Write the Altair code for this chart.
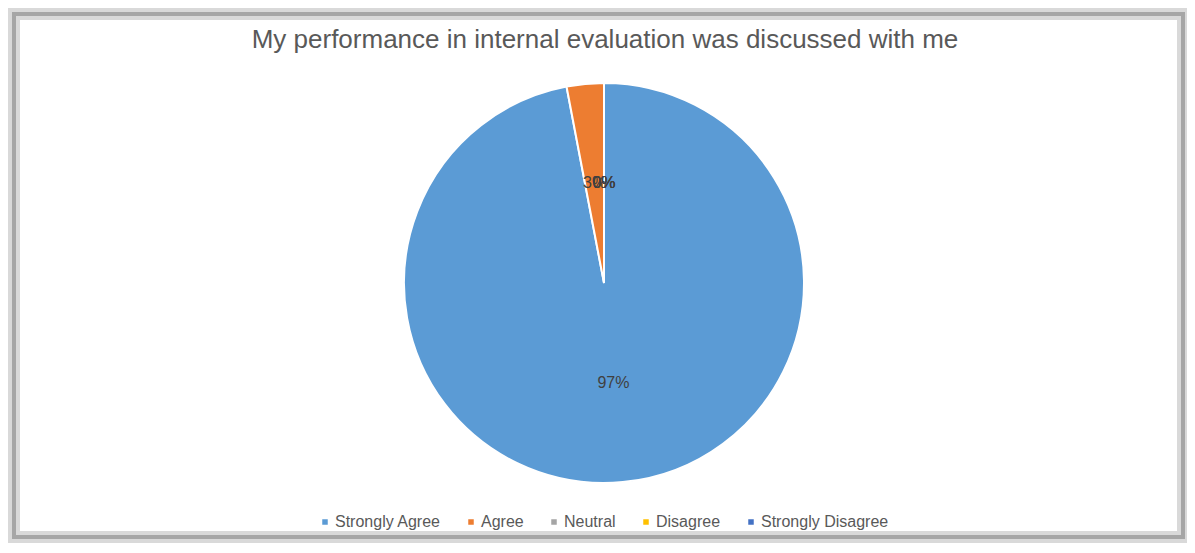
import altair as alt
import pandas as pd

categories = ["Strongly Agree", "Agree", "Neutral", "Disagree", "Strongly Disagree"]
values = [97, 3, 0, 0, 0]
colors = ["#5B9BD5", "#ED7D31", "#A5A5A5", "#FFC000", "#4472C4"]
title_text = "My performance in internal evaluation was discussed with me"

FONT = "Liberation Sans, Arial"

df = pd.DataFrame({
    "category": categories,
    "value": values,
    "order": list(range(len(categories))),
    "label": [f"{v}%" for v in values],
})

W, H = 1179, 537
CX, CY = 596, 275

base = alt.Chart(df).encode(
    theta=alt.Theta("value:Q", stack=True),
    order=alt.Order("order:Q"),
)

pie = base.mark_arc(radius=200, stroke="white", strokeWidth=2).encode(
    color=alt.Color(
        "category:N",
        scale=alt.Scale(domain=categories, range=colors),
        sort=categories,
        legend=alt.Legend(
            title=None,
            orient="none",
            direction="horizontal",
            legendX=309,
            legendY=506,
            symbolType="square",
            symbolSize=49,
            labelFont=FONT,
            labelFontSize=16,
            labelColor="#595959",
            labelOffset=2,
            columnPadding=22,
        ),
    ),
    x=alt.value(CX),
    y=alt.value(CY),
)

labels = base.mark_text(radius=100, font=FONT, fontSize=16, color="#404040").encode(
    text="label:N",
    x=alt.value(CX),
    y=alt.value(CY),
)

frame_df = pd.DataFrame({"a": [0]})
frame_outer = alt.Chart(frame_df).mark_rect(filled=False, stroke="#d9d9d9", strokeWidth=12).encode(
    x=alt.value(6), x2=alt.value(1175), y=alt.value(6), y2=alt.value(529)
)
frame_inner = alt.Chart(frame_df).mark_rect(filled=False, stroke="#a6a6a6", strokeWidth=4).encode(
    x=alt.value(6), x2=alt.value(1175), y=alt.value(6), y2=alt.value(529)
)

title = alt.Chart(pd.DataFrame({"t": [title_text]})).mark_text(
    font=FONT, fontSize=26, color="#595959", baseline="middle", align="center"
).encode(text="t:N", x=alt.value(597), y=alt.value(32))

chart = alt.layer(frame_outer, frame_inner, pie, labels, title).properties(
    width=W, height=H, autosize=alt.AutoSizeParams(type="none"), padding=0,
    background="white",
).configure_view(stroke=None)

chart.save("out.html", embed_options={"renderer": "svg", "actions": False})
